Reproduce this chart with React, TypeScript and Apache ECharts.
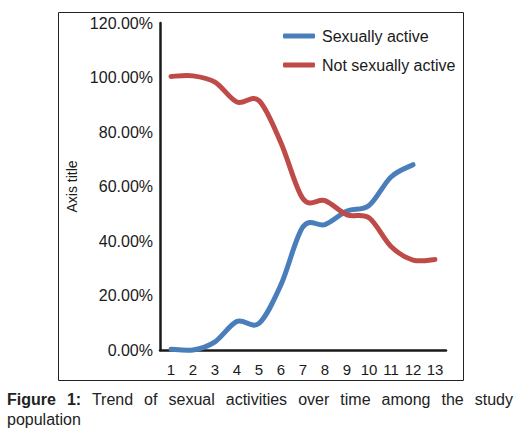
import React, { useEffect, useRef } from "react";
import * as echarts from "echarts";

const categories = ["1", "2", "3", "4", "5", "6", "7", "8", "9", "10", "11", "12", "13"];
const sexuallyActive: (number | null)[] = [0.3, 0, 3, 10.5, 9.8, 24, 45.2, 46, 51, 53, 63.5, 68, null];
const notSexuallyActive: number[] = [100.4, 100.6, 98.3, 91, 91.5, 76, 55.5, 54.8, 49.6, 48.5, 38, 33, 33.2];
const yTicks = { min: 0, max: 120, interval: 20 };
const seriesNames = ["Sexually active", "Not sexually active"];
const seriesColors = ["#4A7EBB", "#BE4B48"];
const captionBold = "Figure 1:";
const captionLine1 = " Trend of sexual activities over time among the study";
const captionLine2 = "population";

const FONT = "'Liberation Sans', Arial, sans-serif";
const TEXT = "#1a1a1a";

// Excel-like smoothed line: cubic Bezier through the points (Catmull-Rom, tension 1/6)
function makeRenderItem(values: (number | null)[], color: string) {
  return (params: any, api: any) => {
    if (params.dataIndex !== 0) return null;
    const pts: number[][] = [];
    values.forEach((v, i) => {
      if (v !== null && v !== undefined) pts.push(api.coord([i, v]));
    });
    if (pts.length < 2) return null;
    const t = 1 / 6;
    let d = `M${pts[0][0]},${pts[0][1]}`;
    for (let i = 0; i < pts.length - 1; i++) {
      const p0 = pts[Math.max(0, i - 1)];
      const p1 = pts[i];
      const p2 = pts[i + 1];
      const p3 = pts[Math.min(pts.length - 1, i + 2)];
      const c1x = p1[0] + (p2[0] - p0[0]) * t;
      const c1y = p1[1] + (p2[1] - p0[1]) * t;
      const c2x = p2[0] - (p3[0] - p1[0]) * t;
      const c2y = p2[1] - (p3[1] - p1[1]) * t;
      d += ` C${c1x},${c1y} ${c2x},${c2y} ${p2[0]},${p2[1]}`;
    }
    return {
      type: "path",
      shape: { pathData: d },
      style: { fill: "none", stroke: color, lineWidth: 5, lineCap: "round", lineJoin: "round" },
    };
  };
}

export default function App() {
  const ref = useRef<HTMLDivElement>(null);
  useEffect(() => {
    if (!ref.current) return;
    const chart = echarts.init(ref.current, undefined, { renderer: "svg" });
    const seriesData = [sexuallyActive, notSexuallyActive];
    chart.setOption({
      animation: false,
      textStyle: { fontFamily: FONT },
      graphic: [
        {
          type: "rect",
          shape: { x: 58.5, y: 12.5, width: 405, height: 368 },
          style: { fill: "none", stroke: "#222", lineWidth: 1 },
          silent: true,
        },
      ],
      legend: {
        orient: "vertical",
        left: 283,
        top: 28,
        padding: 0,
        itemWidth: 32,
        itemHeight: 5,
        itemGap: 13,
        icon: "roundRect",
        data: seriesNames,
        textStyle: { fontSize: 16, color: TEXT, fontFamily: FONT, padding: [0, 0, 0, 2] },
      },
      grid: { left: 160, right: 73, top: 23, bottom: 84, containLabel: false },
      xAxis: {
        type: "category",
        data: categories,
        boundaryGap: true,
        axisLine: { lineStyle: { color: "#1a1a1a", width: 2.5 } },
        axisTick: { show: false },
        axisLabel: { interval: 0, fontSize: 15, color: TEXT, fontFamily: FONT, margin: 12 },
      },
      yAxis: {
        type: "value",
        min: yTicks.min,
        max: yTicks.max,
        interval: yTicks.interval,
        name: "Axis title",
        nameLocation: "middle",
        nameGap: 81,
        nameRotate: 90,
        nameTextStyle: { fontSize: 14, color: TEXT, fontFamily: FONT },
        axisLine: { show: true, lineStyle: { color: "#1a1a1a", width: 2.5 } },
        axisTick: { show: false },
        splitLine: { show: false },
        axisLabel: {
          fontSize: 16,
          color: TEXT,
          fontFamily: FONT,
          margin: 7,
          formatter: (v: number) => v.toFixed(2) + "%",
        },
      },
      series: seriesNames.map((name, s) => ({
        name,
        type: "custom",
        coordinateSystem: "cartesian2d",
        data: seriesData[s].map((v, i) => [i, v]),
        encode: { x: 0, y: 1 },
        itemStyle: { color: seriesColors[s] },
        renderItem: makeRenderItem(seriesData[s], seriesColors[s]),
      })),
    });
    return () => chart.dispose();
  }, []);

  const captionStyle: React.CSSProperties = {
    position: "absolute",
    left: 7,
    width: 506,
    fontFamily: FONT,
    fontSize: 16,
    lineHeight: "20px",
    color: "#222",
    whiteSpace: "nowrap",
  };

  return (
    <div style={{ position: "absolute", left: 0, top: 0, width: 519, height: 434, background: "#fff" }}>
      <div ref={ref} style={{ position: "absolute", left: 0, top: 0, width: 519, height: 434 }} />
      <div style={{ ...captionStyle, top: 390, whiteSpace: "normal", textAlign: "justify", textAlignLast: "justify" }}>
        <b>{captionBold}</b>
        <span>{captionLine1}</span>
      </div>
      <div style={{ ...captionStyle, top: 410, textAlign: "left" }}>{captionLine2}</div>
    </div>
  );
}
